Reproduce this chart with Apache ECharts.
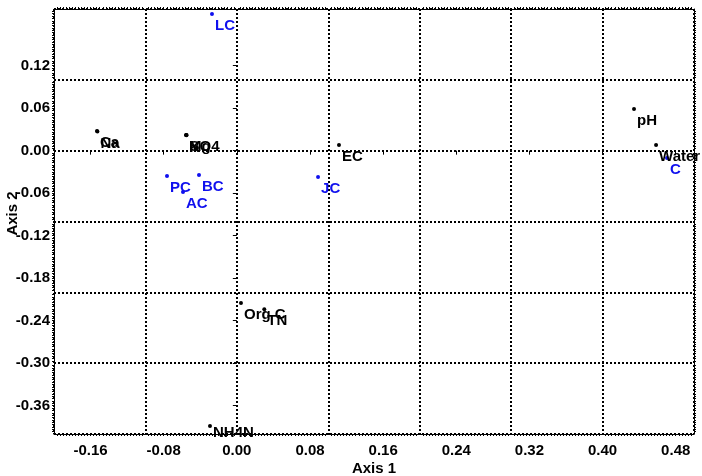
<!DOCTYPE html>
<html>
<head>
<meta charset="utf-8">
<script src="https://cdn.jsdelivr.net/npm/echarts@6/dist/echarts.min.js"></script>
<style>
html,body{margin:0;padding:0;background:#fff;}
#chart{width:702px;height:476px;}
</style>
</head>
<body>
<div id="chart"></div>
<script>
// Sites (blue)
const siteNames = ['LC', 'PC', 'BC', 'AC', 'JC', 'C'];
const siteX = [-0.0272, -0.0764, -0.0414, -0.0589, 0.0888, 0.4705];
const siteY = [0.193, -0.0358, -0.0344, -0.0584, -0.0372, -0.0104];

// Variables (black)
const varNames = ['Ca', 'Na', 'Mg', 'K', 'SO4', 'EC', 'pH', 'Water', 'Org C', 'TN', 'NH4N'];
const varX = [-0.153, -0.1525, -0.0556, -0.0553, -0.0550, 0.1117, 0.4344, 0.4585, 0.0045, 0.0300, -0.0294];
const varY = [0.0278, 0.0272, 0.0221, 0.0216, 0.0222, 0.0080, 0.0588, 0.0080, -0.2150, -0.2240, -0.3887];

// Axis ticks
const xTicks = [-0.16, -0.08, 0.00, 0.08, 0.16, 0.24, 0.32, 0.40, 0.48];
const yTicks = [-0.36, -0.30, -0.24, -0.18, -0.12, -0.06, 0.00, 0.06, 0.12];

const labelPosOverride = { NH4N: [5, 9] };

const FONT = '"Liberation Sans", Arial, Helvetica, sans-serif';
const BLUE = '#1010ee';

function mk(names, xs, ys) {
  return names.map((n, i) => {
    const d = { name: n, value: [xs[i], ys[i]] };
    if (labelPosOverride[n]) d.label = { position: labelPosOverride[n] };
    return d;
  });
}

const chart = echarts.init(document.getElementById('chart'), null, { renderer: 'canvas' });

const gridLine = { show: true, lineStyle: { color: '#000', width: 2, type: [2, 2] } };
const frameLine = { show: true, onZero: false, lineStyle: { color: '#000', width: 1 } };
const minor = { show: true, splitNumber: 30, length: 2, lineStyle: { color: '#000', width: 1 } };

function pointLabel(color) {
  return {
    show: true, position: [5, 14], align: 'left', verticalAlign: 'middle',
    formatter: p => p.name,
    fontFamily: FONT, fontWeight: 'bold', fontSize: 15, color: color
  };
}

const option = {
  animation: false,
  backgroundColor: '#fff',
  grid: { left: 54, top: 9, right: 8, bottom: 42, containLabel: false, outerBoundsMode: 'none' },
  xAxis: [
    {
      type: 'value', min: -0.2, max: 0.5, interval: 0.1, position: 'bottom',
      axisLine: frameLine, axisTick: { show: false }, axisLabel: { show: false },
      splitLine: gridLine, minorTick: minor
    },
    {
      type: 'value', min: -0.2, max: 0.5, position: 'bottom',
      name: 'Axis 1', nameLocation: 'middle', nameGap: 27, nameMoveOverlap: false,
      nameTextStyle: { fontFamily: FONT, fontWeight: 'bold', fontSize: 15, color: '#000' },
      axisLine: { show: false },
      axisTick: { show: true, customValues: xTicks, length: 4, inside: false, lineStyle: { color: '#000' } },
      axisLabel: {
        show: true, customValues: xTicks, margin: 9,
        fontFamily: FONT, fontWeight: 'bold', fontSize: 15, color: '#000',
        formatter: v => (Math.abs(v) < 1e-9 ? 0 : v).toFixed(2)
      },
      splitLine: { show: false }
    },
    {
      type: 'value', min: -0.2, max: 0.5, interval: 0.1, position: 'top',
      axisLine: frameLine, axisTick: { show: false }, axisLabel: { show: false },
      splitLine: { show: false }, minorTick: minor
    }
  ],
  yAxis: [
    {
      type: 'value', min: -0.4, max: 0.2, interval: 0.1, position: 'left',
      axisLine: frameLine, axisTick: { show: false }, axisLabel: { show: false },
      splitLine: gridLine, minorTick: minor
    },
    {
      type: 'value', min: -0.4, max: 0.2, position: 'left',
      name: 'Axis 2', nameLocation: 'middle', nameGap: 34, nameRotate: 90, nameMoveOverlap: false,
      nameTextStyle: { fontFamily: FONT, fontWeight: 'bold', fontSize: 15, color: '#000', padding: [0, 0, 0, 16] },
      axisLine: { show: false },
      axisTick: { show: true, customValues: yTicks, length: 4, inside: false, lineStyle: { color: '#000' } },
      axisLabel: {
        show: true, customValues: yTicks, margin: 4,
        fontFamily: FONT, fontWeight: 'bold', fontSize: 15, color: '#000',
        formatter: v => (Math.abs(v) < 1e-9 ? 0 : v).toFixed(2)
      },
      splitLine: { show: false }
    },
    {
      type: 'value', min: -0.4, max: 0.2, interval: 0.1, position: 'right',
      axisLine: frameLine, axisTick: { show: false }, axisLabel: { show: false },
      splitLine: { show: false }, minorTick: minor
    }
  ],
  series: [
    {
      type: 'scatter', xAxisIndex: 0, yAxisIndex: 0,
      data: mk(varNames, varX, varY),
      symbol: 'circle', symbolSize: 4,
      itemStyle: { color: '#000', opacity: 1 },
      label: pointLabel('#000'),
      emphasis: { disabled: true }
    },
    {
      type: 'scatter', xAxisIndex: 0, yAxisIndex: 0,
      data: mk(siteNames, siteX, siteY),
      symbol: 'circle', symbolSize: 4,
      itemStyle: { color: BLUE, opacity: 1 },
      label: pointLabel(BLUE),
      emphasis: { disabled: true }
    }
  ]
};
chart.setOption(option);
</script>
</body>
</html>
